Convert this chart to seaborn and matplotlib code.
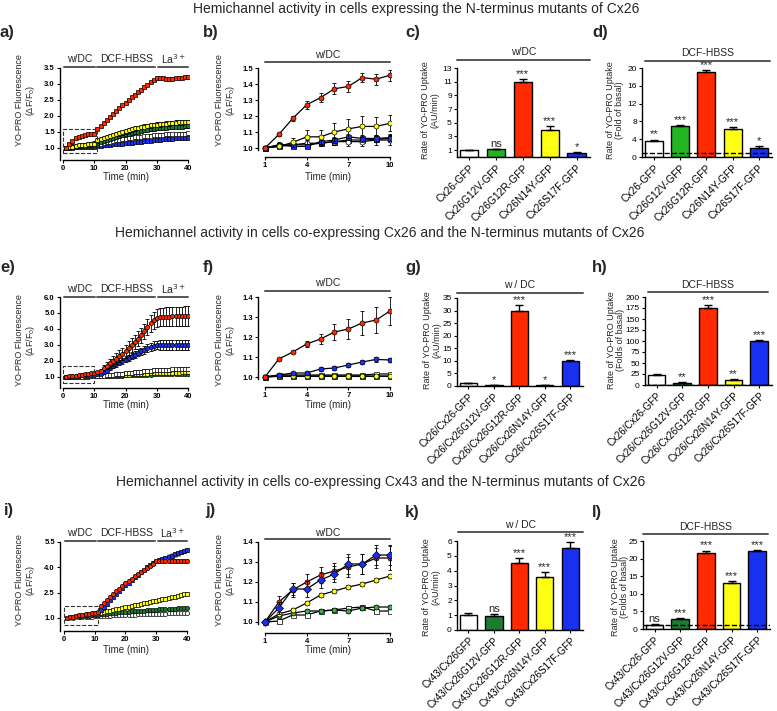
import numpy as np
import matplotlib
matplotlib.use("Agg")
import matplotlib.pyplot as plt
import matplotlib.transforms as mtransforms
from matplotlib.lines import Line2D
from matplotlib.patches import Rectangle
import seaborn as sns
import pandas as pd

sns.set_theme(style="ticks")
plt.rcParams["font.family"] = ["Liberation Sans", "DejaVu Sans"]

# ---------------- data ----------------
t40 = list(range(1, 41))
t10 = list(range(1, 11))

# panel a: Cx26 N-terminus mutants, full time course
a_red = [1.00, 1.12, 1.22, 1.30, 1.35, 1.38, 1.40, 1.43, 1.44, 1.45,
         1.58, 1.68, 1.78, 1.88, 1.97, 2.06, 2.15, 2.24, 2.33, 2.42,
         2.50, 2.58, 2.66, 2.74, 2.82, 2.90, 2.98, 3.06, 3.13, 3.19,
         3.19, 3.18, 3.17, 3.17, 3.16, 3.18, 3.19, 3.20, 3.21, 3.21]
a_yellow = [1.00, 1.02, 1.04, 1.06, 1.08, 1.09, 1.10, 1.12, 1.13, 1.14,
            1.24, 1.28, 1.31, 1.34, 1.37, 1.40, 1.43, 1.46, 1.49, 1.52,
            1.55, 1.58, 1.61, 1.63, 1.65, 1.67, 1.69, 1.71, 1.72, 1.73,
            1.74, 1.75, 1.76, 1.77, 1.78, 1.79, 1.80, 1.80, 1.81, 1.82]
a_green = [1.00, 1.01, 1.02, 1.04, 1.05, 1.06, 1.07, 1.08, 1.09, 1.10,
           1.17, 1.20, 1.23, 1.26, 1.29, 1.32, 1.35, 1.38, 1.40, 1.43,
           1.45, 1.47, 1.49, 1.51, 1.53, 1.55, 1.57, 1.59, 1.60, 1.61,
           1.62, 1.63, 1.64, 1.65, 1.65, 1.66, 1.67, 1.67, 1.68, 1.68]
a_white = [1.00, 1.01, 1.02, 1.02, 1.03, 1.04, 1.04, 1.05, 1.05, 1.06,
           1.12, 1.14, 1.16, 1.18, 1.20, 1.22, 1.24, 1.26, 1.27, 1.29,
           1.30, 1.31, 1.33, 1.34, 1.35, 1.36, 1.38, 1.39, 1.40, 1.41,
           1.42, 1.42, 1.43, 1.43, 1.44, 1.44, 1.45, 1.45, 1.45, 1.46]
a_blue = [1.00, 1.01, 1.01, 1.02, 1.02, 1.03, 1.03, 1.03, 1.04, 1.04,
          1.06, 1.07, 1.08, 1.09, 1.10, 1.11, 1.12, 1.13, 1.14, 1.15,
          1.16, 1.17, 1.18, 1.19, 1.20, 1.21, 1.22, 1.23, 1.24, 1.25,
          1.26, 1.27, 1.28, 1.29, 1.29, 1.30, 1.31, 1.31, 1.32, 1.32]
a_err = {"red": 0.03, "yellow": 0.07, "green": 0.05, "white": 0.04, "blue": 0.03}

# panel b: first 10 min
b_red = [1.00, 1.085, 1.185, 1.27, 1.315, 1.37, 1.385, 1.44, 1.43, 1.455]
b_red_err = [0, 0.01, 0.015, 0.025, 0.03, 0.035, 0.035, 0.03, 0.035, 0.035]
b_yellow = [1.00, 1.01, 1.035, 1.07, 1.07, 1.10, 1.12, 1.135, 1.135, 1.155]
b_yellow_err = [0, 0.01, 0.03, 0.045, 0.045, 0.055, 0.06, 0.065, 0.06, 0.05]
b_blue = [1.00, 1.02, 1.01, 1.01, 1.04, 1.05, 1.07, 1.06, 1.06, 1.065]
b_blue_err = [0, 0.01, 0.01, 0.01, 0.015, 0.02, 0.02, 0.02, 0.02, 0.02]
b_white = [1.00, 1.02, 1.02, 1.03, 1.03, 1.04, 1.04, 1.04, 1.05, 1.05]
b_white_err = [0, 0.02, 0.02, 0.02, 0.02, 0.02, 0.03, 0.03, 0.03, 0.03]
b_green = [1.00, 1.01, 1.02, 1.02, 1.03, 1.04, 1.05, 1.05, 1.055, 1.06]
b_green_err = [0, 0.01, 0.01, 0.01, 0.01, 0.02, 0.02, 0.02, 0.02, 0.02]

# bars c, d
c_labels = ["Cx26-GFP", "Cx26G12V-GFP", "Cx26G12R-GFP", "Cx26N14Y-GFP", "Cx26S17F-GFP"]
c_vals = [1.0, 1.1, 10.9, 4.0, 0.65]
c_err = [0.0, 0.1, 0.5, 0.5, 0.08]
c_sig = ["", "ns", "***", "***", "*"]
d_vals = [3.5, 6.9, 19.0, 6.4, 2.0]
d_err = [0.4, 0.2, 0.5, 0.4, 0.5]
d_sig = ["**", "***", "***", "***", "*"]

# panel e: Cx26 co-expression, full time course
e_red = [1.00, 1.03, 1.06, 1.08, 1.10, 1.13, 1.16, 1.19, 1.22, 1.25,
         1.30, 1.40, 1.55, 1.70, 1.85, 2.00, 2.15, 2.30, 2.45, 2.60,
         2.80, 3.00, 3.20, 3.40, 3.60, 3.85, 4.10, 4.35, 4.55, 4.70,
         4.75, 4.77, 4.78, 4.78, 4.79, 4.79, 4.80, 4.80, 4.80, 4.80]
e_red_err = [0.02, 0.02, 0.03, 0.03, 0.03, 0.04, 0.04, 0.04, 0.05, 0.05,
             0.08, 0.12, 0.18, 0.22, 0.26, 0.30, 0.33, 0.36, 0.38, 0.40,
             0.42, 0.44, 0.45, 0.46, 0.47, 0.48, 0.50, 0.52, 0.53, 0.55,
             0.56, 0.57, 0.58, 0.58, 0.59, 0.60, 0.60, 0.60, 0.61, 0.61]
e_blue = [1.00, 1.02, 1.04, 1.06, 1.08, 1.10, 1.11, 1.12, 1.13, 1.15,
          1.17, 1.20, 1.28, 1.40, 1.55, 1.68, 1.80, 1.90, 2.00, 2.10,
          2.20, 2.30, 2.40, 2.50, 2.60, 2.70, 2.80, 2.88, 2.95, 3.00,
          3.00, 3.00, 3.00, 3.00, 3.00, 3.00, 3.00, 3.00, 3.00, 3.00]
e_blue_err = [0.02, 0.02, 0.02, 0.02, 0.02, 0.02, 0.02, 0.02, 0.02, 0.02,
              0.04, 0.06, 0.08, 0.10, 0.12, 0.14, 0.15, 0.16, 0.17, 0.18,
              0.19, 0.20, 0.21, 0.22, 0.23, 0.24, 0.25, 0.26, 0.27, 0.28,
              0.29, 0.30, 0.30, 0.30, 0.30, 0.30, 0.30, 0.30, 0.30, 0.30]
e_white = [1.00, 1.005, 1.01, 1.015, 1.02, 1.025, 1.03, 1.035, 1.04, 1.045,
           1.05, 1.07, 1.09, 1.11, 1.13, 1.15, 1.17, 1.19, 1.21, 1.23,
           1.25, 1.27, 1.29, 1.31, 1.33, 1.35, 1.37, 1.39, 1.41, 1.42,
           1.43, 1.44, 1.45, 1.46, 1.47, 1.47, 1.48, 1.48, 1.49, 1.49]
e_yellow = [1.00, 1.005, 1.01, 1.015, 1.02, 1.025, 1.03, 1.035, 1.04, 1.045,
            1.05, 1.06, 1.07, 1.08, 1.09, 1.10, 1.11, 1.12, 1.13, 1.14,
            1.15, 1.16, 1.17, 1.18, 1.19, 1.20, 1.21, 1.22, 1.23, 1.24,
            1.25, 1.25, 1.26, 1.26, 1.27, 1.27, 1.27, 1.28, 1.28, 1.28]
e_green = [1.00, 1.00, 1.01, 1.01, 1.01, 1.02, 1.02, 1.02, 1.03, 1.03,
           1.04, 1.05, 1.05, 1.06, 1.07, 1.07, 1.08, 1.09, 1.09, 1.10,
           1.11, 1.11, 1.12, 1.13, 1.13, 1.14, 1.15, 1.15, 1.16, 1.16,
           1.17, 1.17, 1.18, 1.18, 1.18, 1.19, 1.19, 1.19, 1.20, 1.20]
e_err = {"white": 0.12, "yellow": 0.05, "green": 0.04}

# panel f: first 10 min
f_red = [1.00, 1.09, 1.125, 1.165, 1.19, 1.225, 1.24, 1.27, 1.285, 1.33]
f_red_err = [0, 0.005, 0.005, 0.015, 0.025, 0.04, 0.05, 0.06, 0.065, 0.07]
f_blue = [1.00, 1.01, 1.02, 1.02, 1.04, 1.045, 1.06, 1.075, 1.088, 1.085]
f_blue_err = [0, 0.005, 0.005, 0.008, 0.008, 0.01, 0.01, 0.012, 0.012, 0.012]
f_white = [1.00, 1.01, 1.01, 1.01, 1.01, 1.01, 1.01, 1.01, 1.015, 1.015]
f_green = [1.00, 1.005, 1.005, 1.005, 1.005, 1.005, 1.005, 1.005, 1.005, 1.005]
f_yellow = [1.00, 1.003, 1.003, 1.003, 1.003, 1.003, 1.003, 1.003, 1.003, 1.003]

# bars g, h
g_labels = ["Cx26/Cx26-GFP", "Cx26/Cx26G12V-GFP", "Cx26/Cx26G12R-GFP",
            "Cx26/Cx26N14Y-GFP", "Cx26/Cx26S17F-GFP"]
g_vals = [1.1, 0.3, 30.0, 0.3, 10.0]
g_err = [0.1, 0.1, 2.2, 0.1, 0.4]
g_sig = ["", "*", "***", "*", "***"]
h_vals = [23, 5, 176, 12, 100]
h_err = [2, 1.5, 5, 2, 3]
h_sig = ["", "**", "***", "**", "***"]

# panel i: Cx43 co-expression, full time course
i_red = [1.00, 1.04, 1.08, 1.12, 1.16, 1.19, 1.22, 1.25, 1.28, 1.31,
         1.34, 1.70, 1.88, 2.06, 2.24, 2.42, 2.58, 2.74, 2.90, 3.06,
         3.20, 3.33, 3.46, 3.59, 3.72, 3.85, 3.98, 4.10, 4.22, 4.35,
         4.36, 4.36, 4.35, 4.35, 4.35, 4.35, 4.35, 4.35, 4.35, 4.35]
i_blue = [1.00, 1.03, 1.06, 1.09, 1.12, 1.15, 1.18, 1.21, 1.24, 1.27,
          1.30, 1.45, 1.65, 1.85, 2.05, 2.25, 2.43, 2.60, 2.77, 2.94,
          3.10, 3.25, 3.40, 3.55, 3.70, 3.85, 4.00, 4.13, 4.26, 4.38,
          4.45, 4.52, 4.58, 4.64, 4.70, 4.76, 4.82, 4.88, 4.94, 5.00]
i_yellow = [1.00, 1.03, 1.06, 1.09, 1.12, 1.15, 1.18, 1.21, 1.23, 1.25,
            1.27, 1.31, 1.35, 1.39, 1.43, 1.47, 1.51, 1.55, 1.59, 1.63,
            1.67, 1.71, 1.75, 1.79, 1.83, 1.87, 1.91, 1.95, 1.99, 2.03,
            2.07, 2.11, 2.15, 2.19, 2.23, 2.27, 2.31, 2.35, 2.40, 2.45]
i_green = [1.00, 1.02, 1.04, 1.06, 1.08, 1.10, 1.12, 1.14, 1.16, 1.18,
           1.20, 1.22, 1.24, 1.26, 1.28, 1.30, 1.31, 1.33, 1.34, 1.36,
           1.37, 1.39, 1.40, 1.42, 1.43, 1.44, 1.46, 1.47, 1.48, 1.50,
           1.51, 1.52, 1.53, 1.54, 1.55, 1.56, 1.57, 1.58, 1.59, 1.60]
i_white = [1.00, 1.01, 1.02, 1.03, 1.04, 1.05, 1.06, 1.07, 1.08, 1.09,
           1.10, 1.11, 1.12, 1.13, 1.14, 1.15, 1.16, 1.16, 1.17, 1.18,
           1.19, 1.20, 1.20, 1.21, 1.22, 1.22, 1.23, 1.24, 1.24, 1.25,
           1.25, 1.26, 1.26, 1.27, 1.27, 1.28, 1.28, 1.29, 1.29, 1.30]
i_err = {"red": 0.12, "blue": 0.12, "yellow": 0.1, "green": 0.05, "white": 0.05}

# panel j: first 10 min
j_red = [1.00, 1.10, 1.16, 1.20, 1.235, 1.255, 1.275, 1.29, 1.32, 1.32]
j_red_err = [0, 0.03, 0.035, 0.04, 0.04, 0.04, 0.05, 0.05, 0.05, 0.06]
j_blue = [1.00, 1.07, 1.165, 1.165, 1.21, 1.24, 1.29, 1.29, 1.335, 1.335]
j_blue_err = [0, 0.03, 0.03, 0.04, 0.04, 0.04, 0.05, 0.05, 0.05, 0.05]
j_yellow = [1.00, 1.04, 1.06, 1.095, 1.135, 1.155, 1.175, 1.19, 1.21, 1.23]
j_yellow_err = [0, 0.01, 0.01, 0.01, 0.01, 0.01, 0.01, 0.01, 0.012, 0.012]
j_green = [1.00, 1.03, 1.045, 1.055, 1.055, 1.06, 1.055, 1.07, 1.075, 1.075]
j_white = [1.00, 1.005, 1.035, 1.035, 1.055, 1.06, 1.07, 1.075, 1.055, 1.055]

# bars k, l
k_labels = ["Cx43/Cx26GFP", "Cx43/Cx26G12V-GFP", "Cx43/Cx26G12R-GFP",
            "Cx43/Cx26N14Y-GFP", "Cx43/Cx26S17F-GFP"]
l_labels = ["Cx43/Cx26-GFP", "Cx43/Cx26G12V-GFP", "Cx43/Cx26G12R-GFP",
            "Cx43/Cx26N14Y-GFP", "Cx43/Cx26S17F-GFP"]
k_vals = [1.0, 0.95, 4.5, 3.55, 5.5]
k_err = [0.15, 0.1, 0.35, 0.35, 0.4]
k_sig = ["", "ns", "***", "***", "***"]
l_vals = [1.1, 2.8, 21.6, 13.0, 22.1]
l_err = [0.2, 0.3, 0.7, 0.7, 0.3]
l_sig = ["ns", "***", "***", "***", "***"]

RED = "#ff2a00"
YEL = "#ffff14"
BLU = "#1a30f0"
GRN = "#1e7b34"
GRN_LIGHT = "#22b422"

# ---------------- figure ----------------
W, H = 777, 711
fig = plt.figure(figsize=(W / 100, H / 100), dpi=100)


def fx(px):
    return px / W


def fy(py):
    return 1 - py / H


def new_ax(l, t, r, b):
    return fig.add_axes([fx(l), fy(b), (r - l) / W, (b - t) / H])


def style(ax, labelsize=5.5, bold=True, xsize=None):
    sns.despine(ax=ax)
    for s in ["left", "bottom"]:
        ax.spines[s].set_linewidth(1.0)
        ax.spines[s].set_color("black")
    ax.tick_params(direction="out", length=2.5, width=0.8, labelsize=labelsize,
                   pad=1.2, colors="black")
    if xsize:
        ax.tick_params(axis="x", labelsize=xsize, pad=1.5)
    if bold:
        for lab in ax.get_xticklabels() + ax.get_yticklabels():
            lab.set_fontweight("bold")


def course(ax, t, rows, ecolor="black", ms=3.3, lw=0.7):
    for z, (y, err, color, mk) in enumerate(rows):
        ax.errorbar(t, y, yerr=err, fmt="none", ecolor=ecolor, elinewidth=0.6,
                    capsize=1.3, capthick=0.6, zorder=2 + 2 * z)
        sns.lineplot(x=t, y=y, ax=ax, color="black", linewidth=lw, marker=mk,
                     markersize=ms, markerfacecolor=color, markeredgecolor="black",
                     markeredgewidth=0.5, estimator=None, errorbar=None,
                     legend=False, zorder=3 + 2 * z)
    ax.set_xlabel("")
    ax.set_ylabel("")


def bars(ax, labels, vals, errs, sig, colors, dashed=False):
    df = pd.DataFrame({"group": labels, "value": vals})
    sns.barplot(data=df, x="group", y="value", hue="group", order=labels,
                hue_order=labels, palette=colors, legend=False, width=0.68,
                saturation=1, edgecolor="black", linewidth=1.0, ax=ax)
    n = len(vals)
    ax.errorbar(np.arange(n), vals, yerr=[np.zeros(n), errs], fmt="none",
                ecolor="black", elinewidth=1.0, capsize=3, capthick=1.0, zorder=5)
    for i, (v, e, s) in enumerate(zip(vals, errs, sig)):
        if s:
            ax.annotate(s, (i, v + e), xytext=(0, 1.5), textcoords="offset points",
                        ha="center", va="baseline", fontsize=8, annotation_clip=False)
    if dashed:
        ax.axhline(1, ls="--", color="black", lw=1.0, zorder=6)
    ax.set_xlim(-0.45, n - 0.5)
    ax.set_xticks(range(n))
    ax.set_xticklabels(labels, rotation=45, ha="right", rotation_mode="anchor")
    ax.set_xlabel("")
    ax.set_ylabel("")


def ylab(x, y, text):
    fig.text(fx(x), fy(y), text, rotation=90, ha="center", va="center",
             fontsize=6.5, multialignment="center", linespacing=1.1)


def xlab(x, y, text="Time (min)"):
    fig.text(fx(x), fy(y), text, ha="center", va="center", fontsize=7)


def letter(x, y, text):
    fig.text(fx(x), fy(y), text, ha="left", va="center", fontsize=12,
             fontweight="bold")


def hline_px(x0, x1, y, text, ty, fs=7.5):
    fig.add_artist(Line2D([fx(x0), fx(x1)], [fy(y), fy(y)], color="#555555", lw=1.4))
    fig.text(fx((x0 + x1) / 2), fy(ty), text, ha="center", va="center", fontsize=fs)


def phases(ax, y, ty):
    trans = mtransforms.blended_transform_factory(ax.transData, fig.transFigure)
    for x0, x1, text in [(0.2, 10.3, "w/DC"), (11.0, 29.5, "DCF-HBSS"),
                         (30.5, 40.0, "La$^{3+}$")]:
        fig.add_artist(Line2D([x0, x1], [fy(y), fy(y)], color="#555555", lw=1.4,
                              transform=trans))
        fig.text((x0 + x1) / 2, fy(ty), text, ha="center", va="center",
                 fontsize=7.5, transform=trans)


def short_header(ax, y, ty, text):
    trans = mtransforms.blended_transform_factory(ax.transData, fig.transFigure)
    fig.add_artist(Line2D([1, 10], [fy(y), fy(y)], color="#555555", lw=1.4,
                          transform=trans))
    fig.text(5.5, fy(ty), text, ha="center", va="center", fontsize=7.5,
             transform=trans)


# titles
fig.text(fx(416), fy(9), "Hemichannel activity in cells expressing the N-terminus mutants of Cx26",
         ha="center", va="center", fontsize=10)
fig.text(fx(380), fy(233), "Hemichannel activity in cells co-expressing Cx26 and the N-terminus mutants of Cx26",
         ha="center", va="center", fontsize=10)
fig.text(fx(381), fy(482), "Hemichannel activity in cells co-expressing Cx43 and the N-terminus mutants of Cx26",
         ha="center", va="center", fontsize=10)

# ---- row 1 ----
ax = new_ax(60, 68, 189, 160)
course(ax, t40, [(a_blue, a_err["blue"], BLU, "s"),
                 (a_white, a_err["white"], "white", "s"),
                 (a_green, a_err["green"], GRN, "s"),
                 (a_yellow, a_err["yellow"], YEL, "o"),
                 (a_red, a_err["red"], RED, "s")], ms=3.0, lw=0.5)
ax.add_patch(Rectangle((0, 0.85), 11, 0.75, fill=False, ls="--", lw=0.8,
                       edgecolor="#333333", zorder=20))
ax.set_xlim(-0.96, 40.32)
ax.set_ylim(0.625, 3.5)
ax.set_yticks([1.0, 1.5, 2.0, 2.5, 3.0, 3.5])
ax.set_yticklabels(["1.0", "1.5", "2.0", "2.5", "3.0", "3.5"])
ax.set_xticks([0, 10, 20, 30, 40])
ax.spines["bottom"].set_bounds(0, 40)
style(ax)
phases(ax, 67, 59)
ylab(26, 100, "YO-PRO Fluorescence\n(ΔF/F$_0$)")
xlab(126, 177)
letter(0, 33, "a)")

ax = new_ax(258, 68, 391, 157)
course(ax, t10, [(b_green, b_green_err, GRN, "s"),
                 (b_white, b_white_err, "white", "o"),
                 (b_blue, b_blue_err, BLU, "s"),
                 (b_yellow, b_yellow_err, YEL, "o"),
                 (b_red, b_red_err, RED, "o")], ms=3.6, lw=0.9)
ax.set_xlim(0.5, 10.07)
ax.set_ylim(0.944, 1.5)
ax.set_yticks([1.0, 1.1, 1.2, 1.3, 1.4, 1.5])
ax.set_yticklabels(["1.0", "1.1", "1.2", "1.3", "1.4", "1.5"])
ax.set_xticks([1, 4, 7, 10])
ax.spines["bottom"].set_bounds(1, 10)
ax.spines["left"].set_bounds(0.99, 1.5)
style(ax)
short_header(ax, 62, 55, "w/DC")
ylab(226, 100, "YO-PRO Fluorescence\n(ΔF/F$_0$)")
xlab(328, 177)
letter(203, 33, "b)")

ax = new_ax(457, 68, 590, 157)
bars(ax, c_labels, c_vals, c_err, c_sig, ["white", GRN_LIGHT, RED, YEL, BLU])
ax.set_ylim(0, 13)
ax.set_yticks([1, 3, 5, 7, 9, 11, 13])
style(ax, labelsize=6, bold=False, xsize=7.4)
hline_px(457, 590, 60, "w/DC", 52)
ylab(430, 110, "Rate of YO-PRO Uptake\n(AU/min)")
letter(405, 33, "c)")

ax = new_ax(642, 68, 772, 157)
bars(ax, c_labels, d_vals, d_err, d_sig, ["white", GRN_LIGHT, RED, YEL, BLU], dashed=True)
ax.set_ylim(0, 20)
ax.set_yticks([0, 4, 8, 12, 16, 20])
style(ax, labelsize=6, bold=False, xsize=7.4)
hline_px(645, 770, 61, "DCF-HBSS", 53)
ylab(615, 110, "Rate of YO-PRO Uptake\n(Fold of basal)")
letter(592, 33, "d)")

# ---- row 2 ----
ax = new_ax(60, 297, 189, 388)
course(ax, t40, [(e_green, e_err["green"], GRN, "o"),
                 (e_yellow, e_err["yellow"], YEL, "o"),
                 (e_white, e_err["white"], "white", "s"),
                 (e_blue, e_blue_err, BLU, "o"),
                 (e_red, e_red_err, RED, "o")], ms=3.0, lw=0.5)
ax.add_patch(Rectangle((0, 0.63), 10, 1.06, fill=False, ls="--", lw=0.8,
                       edgecolor="#333333", zorder=20))
ax.set_xlim(-0.96, 40.32)
ax.set_ylim(0.31, 6.0)
ax.set_yticks([1, 2, 3, 4, 5, 6])
ax.set_yticklabels(["1.0", "2.0", "3.0", "4.0", "5.0", "6.0"])
ax.set_xticks([0, 10, 20, 30, 40])
ax.spines["bottom"].set_bounds(0, 40)
style(ax)
phases(ax, 297, 289)
ylab(26, 340, "YO-PRO Fluorescence\n(ΔF/F$_0$)")
xlab(126, 405)
letter(0, 267, "e)")

ax = new_ax(258, 297, 391, 387)
course(ax, t10, [(f_white, 0.005, "white", "s"),
                 (f_green, 0.005, GRN, "s"),
                 (f_yellow, 0.004, YEL, "o"),
                 (f_blue, f_blue_err, BLU, "o"),
                 (f_red, f_red_err, RED, "o")], ms=3.6, lw=0.9)
ax.set_xlim(0.5, 10.07)
ax.set_ylim(0.95, 1.4)
ax.set_yticks([1.0, 1.1, 1.2, 1.3, 1.4])
ax.set_yticklabels(["1.0", "1.1", "1.2", "1.3", "1.4"])
ax.set_xticks([1, 4, 7, 10])
ax.spines["bottom"].set_bounds(1, 10)
ax.spines["left"].set_bounds(0.99, 1.4)
style(ax)
short_header(ax, 291, 283, "w/DC")
ylab(226, 340, "YO-PRO Fluorescence\n(ΔF/F$_0$)")
xlab(328, 405)
letter(203, 267, "f)")

ax = new_ax(457, 298, 583, 386)
bars(ax, g_labels, g_vals, g_err, g_sig, ["white", GRN, RED, YEL, BLU])
ax.set_ylim(0, 35)
ax.set_yticks([0, 5, 10, 15, 20, 25, 30, 35])
style(ax, labelsize=6, bold=False, xsize=7)
hline_px(457, 583, 293, "w / DC", 285)
ylab(432, 340, "Rate of YO-PRO Uptake\n(AU/min)")
letter(405, 267, "g)")

ax = new_ax(645, 297, 772, 385)
bars(ax, g_labels, h_vals, h_err, h_sig, ["white", GRN, RED, YEL, BLU], dashed=True)
ax.set_ylim(0, 200)
ax.set_yticks([0, 25, 50, 75, 100, 125, 150, 175, 200])
style(ax, labelsize=6, bold=False, xsize=7)
hline_px(648, 768, 292, "DCF-HBSS", 285)
ylab(616, 340, "Rate of YO-PRO Uptake\n(Folds of basal)")
letter(592, 267, "h)")

# ---- row 3 ----
ax = new_ax(60, 542, 189, 631)
course(ax, t40, [(i_white, i_err["white"], "white", "o"),
                 (i_green, i_err["green"], GRN, "o"),
                 (i_yellow, i_err["yellow"], YEL, "s"),
                 (i_blue, i_err["blue"], BLU, "s"),
                 (i_red, i_err["red"], RED, "o")], ecolor="#9a9a9a", ms=3.0, lw=0.5)
ax.add_patch(Rectangle((0, 0.6), 11, 1.1, fill=False, ls="--", lw=0.8,
                       edgecolor="#333333", zorder=20))
ax.set_xlim(-1.3, 40.65)
ax.set_ylim(0.23, 5.5)
ax.set_yticks([1.0, 2.5, 4.0, 5.5])
ax.set_yticklabels(["1.0", "2.5", "4.0", "5.5"])
ax.set_xticks([0, 10, 20, 30, 40])
ax.spines["bottom"].set_bounds(0, 40)
style(ax)
phases(ax, 541, 533)
ylab(26, 580, "YO-PRO Fluorescence\n(ΔF/F$_0$)")
xlab(126, 650)
letter(4, 510, "i)")

ax = new_ax(258, 542, 391, 633)
course(ax, t10, [(j_white, 0.008, "white", "s"),
                 (j_green, 0.008, "#3cb043", "o"),
                 (j_yellow, j_yellow_err, YEL, "o"),
                 (j_red, j_red_err, RED, "o"),
                 (j_blue, j_blue_err, BLU, "D")], ms=3.6, lw=0.9)
ax.set_xlim(0.5, 10.07)
ax.set_ylim(0.945, 1.4)
ax.set_yticks([1.0, 1.1, 1.2, 1.3, 1.4])
ax.set_yticklabels(["1.0", "1.1", "1.2", "1.3", "1.4"])
ax.set_xticks([1, 4, 7, 10])
ax.spines["bottom"].set_bounds(1, 10)
ax.spines["left"].set_bounds(0.99, 1.4)
style(ax)
short_header(ax, 539, 533, "w/DC")
ylab(226, 580, "YO-PRO Fluorescence\n(ΔF/F$_0$)")
xlab(328, 650)
letter(205, 510, "j)")

ax = new_ax(457, 541, 583, 630)
bars(ax, k_labels, k_vals, k_err, k_sig, ["white", GRN, RED, YEL, BLU])
ax.set_ylim(0, 6)
ax.set_yticks([0, 1, 2, 3, 4, 5, 6])
style(ax, labelsize=6, bold=False, xsize=7)
hline_px(458, 583, 532, "w / DC", 525)
ylab(431, 587, "Rate of YO-PRO Uptake\n(AU/min)")
letter(405, 512, "k)")

ax = new_ax(643, 541, 770, 629)
bars(ax, l_labels, l_vals, l_err, l_sig, ["white", GRN, RED, YEL, BLU], dashed=True)
ax.set_ylim(0, 25)
ax.set_yticks([0, 5, 10, 15, 20, 25])
style(ax, labelsize=6, bold=False, xsize=7)
hline_px(643, 768, 534, "DCF-HBSS", 527)
ylab(620, 587, "Rate of YO-PRO Uptake\n(Folds of basal)")
letter(592, 512, "l)")

fig.savefig("out.png", dpi=100)
